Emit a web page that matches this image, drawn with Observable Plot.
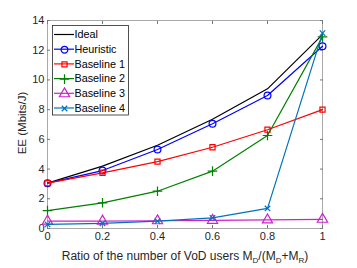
<!DOCTYPE html>
<html><head><meta charset="utf-8">
<script src="https://cdn.jsdelivr.net/npm/d3@7"></script>
<script src="https://cdn.jsdelivr.net/npm/@observablehq/plot@0.6"></script>
<style>
body{margin:0;background:#fff;}
#wrap{position:relative;width:357px;height:268px;font-family:"Liberation Sans",Arial,sans-serif;}
</style>
</head><body><div id="wrap"></div>
<script>
const ratios = [0, 0.2, 0.4, 0.6, 0.8, 1];
const ideal     = [3.05, 4.2, 5.6, 7.35, 9.4, 13.05];
const heuristic = [3.05, 3.9, 5.32, 7.05, 8.95, 12.27];
const baseline1 = [3.05, 3.75, 4.5, 5.47, 6.65, 8.0];
const baseline2 = [1.2, 1.73, 2.51, 3.86, 6.26, 12.9];
const baseline3 = [0.5, 0.5, 0.52, 0.55, 0.58, 0.62];
const baseline4 = [0.28, 0.35, 0.5, 0.72, 1.35, 13.15];
const seriesNames = ["Ideal", "Heuristic", "Baseline 1", "Baseline 2", "Baseline 3", "Baseline 4"];
const xTicks = [0, 0.2, 0.4, 0.6, 0.8, 1];
const yTicks = [0, 2, 4, 6, 8, 10, 12, 14];

const styles = {
  "Ideal":      {color: "#000000", symbol: null, r: 0},
  "Heuristic":  {color: "#0000ff", symbol: "circle", r: 3.4},
  "Baseline 1": {color: "#ff0000", symbol: "square", r: 2.9},
  "Baseline 2": {color: "#008000", symbol: "plus", r: 3.2},
  "Baseline 3": {color: "#cc22cc", symbol: "triangle", r: 3.8},
  "Baseline 4": {color: "#0072bd", symbol: "times", r: 2.6}
};
const values = [ideal, heuristic, baseline1, baseline2, baseline3, baseline4];
const rows = [];
seriesNames.forEach((s, i) => ratios.forEach((x, j) => rows.push({series: s, x, y: values[i][j]})));

const marks = [
  Plot.frame({stroke: "#262626", strokeOpacity: 0.4}),
  Plot.axisX({ticks: xTicks, tickSize: -3, tickFormat: d => String(d), fontSize: 11, color: "#262626", stroke: "#777", label: null, tickPadding: 7}),
  Plot.axisX({anchor: "top", ticks: xTicks, tickSize: -3, tickFormat: () => "", label: null, stroke: "#777"}),
  Plot.axisY({ticks: yTicks, tickSize: -3, fontSize: 11, color: "#262626", stroke: "#777", label: null, tickPadding: 6}),
  Plot.axisY({anchor: "right", ticks: yTicks, tickSize: -3, tickFormat: () => "", label: null, stroke: "#777"})
];
seriesNames.forEach(s => {
  const st = styles[s];
  const d = rows.filter(r => r.series === s);
  marks.push(Plot.line(d, {x: "x", y: "y", stroke: st.color, strokeWidth: 1.2}));
  if (st.symbol) marks.push(Plot.dot(d, {x: "x", y: "y", symbol: st.symbol, r: st.r, stroke: st.color, fill: "none", strokeWidth: 1.2}));
});

const chart = Plot.plot({
  width: 357, height: 268,
  marginLeft: 47, marginRight: 35, marginTop: 20, marginBottom: 40,
  style: {fontFamily: "Liberation Sans, Arial, sans-serif", background: "#fff"},
  x: {domain: [0, 1]},
  y: {domain: [0, 14]},
  marks
});
document.getElementById("wrap").appendChild(chart);

const svg = d3.select(chart);
// x label with subscripts
const xl = svg.append("text").attr("x", 185).attr("y", 260).attr("text-anchor", "middle")
  .attr("font-size", 12).attr("fill", "#262626");
xl.append("tspan").text("Ratio of the number of VoD users M");
xl.append("tspan").attr("font-size", 8).attr("dy", 3).text("D");
xl.append("tspan").attr("dy", -3).text("/(M");
xl.append("tspan").attr("font-size", 8).attr("dy", 3).text("D");
xl.append("tspan").attr("dy", -3).text("+M");
xl.append("tspan").attr("font-size", 8).attr("dy", 3).text("R");
xl.append("tspan").attr("dy", -3).text(")");
// y label
svg.append("text").attr("transform", "translate(26,123) rotate(-90)").attr("text-anchor", "middle")
  .attr("font-size", 11.5).attr("fill", "#262626").text("EE (Mbits/J)");

// legend
const lg = svg.append("g");
lg.append("rect").attr("x", 52.5).attr("y", 25.5).attr("width", 76).attr("height", 89.5)
  .style("fill", "#ffffff").style("stroke", "#262626").style("stroke-width", "0.8px");
seriesNames.forEach((s, i) => {
  const st = styles[s];
  const y = 34.5 + i * 14.7;
  lg.append("line").attr("x1", 54).attr("x2", 74).attr("y1", y).attr("y2", y).style("stroke", st.color).style("stroke-width", "1.2px");
  lg.append("text").attr("x", 74.5).attr("y", y).attr("dy", "0.35em").attr("text-anchor", "start")
    .attr("font-size", 10.8).attr("fill", "#000").text(s);
});
// legend symbols through Plot's own dot mark in a small svg overlay
const legendRows = seriesNames.map((s, i) => ({series: s, i})).filter(d => styles[d.series].symbol);
const legendSvg = Plot.plot({
  width: 357, height: 268, margin: 0,
  x: {domain: [0, 357], axis: null}, y: {domain: [0, 268], range: [0, 268], axis: null},
  style: {background: "transparent", position: "absolute", left: "0px", top: "0px"},
  marks: legendRows.map(d => Plot.dot([d], {x: () => 64, y: () => 34.5 + d.i * 14.7,
    symbol: () => styles[d.series].symbol, r: styles[d.series].r, stroke: styles[d.series].color, fill: "none", strokeWidth: 1.2}))
});
document.getElementById("wrap").appendChild(legendSvg);
</script>
</body></html>
